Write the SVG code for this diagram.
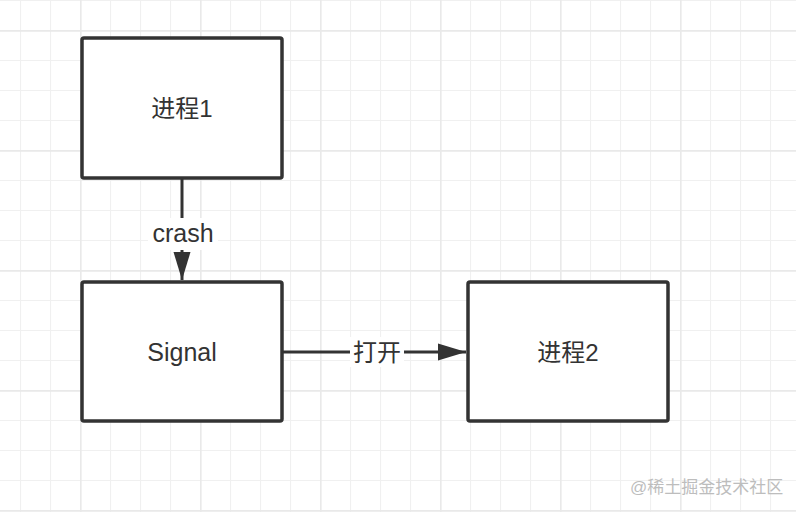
<svg xmlns="http://www.w3.org/2000/svg" width="796" height="512" viewBox="0 0 796 512">
  <style>
    .box { fill: #ffffff; stroke: #333333; stroke-width: 3.5; }
    .lbl { font-family: "Liberation Sans", "Noto Sans CJK SC", sans-serif; font-size: 24px; fill: #333333; text-anchor: middle; }
    .lat { font-size: 25px; }
    .edge { stroke: #333333; stroke-width: 3; fill: none; }
    .wm { font-family: "Liberation Sans", "Noto Sans CJK SC", sans-serif; font-size: 17px; fill: #bdbdbd; }
  </style>
  <defs>
    <pattern id="minor" patternUnits="userSpaceOnUse" x="20" y="0" width="30" height="30">
      <path d="M0.5 0 V30 M0 0.5 H30" stroke="#f0f0f0" stroke-width="1.2" fill="none"/>
    </pattern>
    <pattern id="major" patternUnits="userSpaceOnUse" x="80" y="30" width="120" height="120">
      <path d="M0.75 0 V120 M0 0.75 H120" stroke="#e9e9e9" stroke-width="1.8" fill="none"/>
    </pattern>
    <marker id="arr" markerUnits="userSpaceOnUse" markerWidth="30" markerHeight="20" refX="28" refY="9" orient="auto">
      <path d="M0 0.5 L28 9 L0 17.5 Z" fill="#333333"/>
    </marker>
  </defs>
  <rect width="796" height="512" fill="#ffffff"/>
  <rect width="796" height="512" fill="url(#minor)"/>
  <rect width="796" height="512" fill="url(#major)"/>

  <g id="connectors">
    <g id="edge-crash">
      <path class="edge" d="M182 179 V280" marker-end="url(#arr)"/>
      <rect x="148" y="218" width="70" height="32" fill="#ffffff"/>
      <text class="lbl lat" x="183" y="242">crash</text>
    </g>
    <g id="edge-open">
      <path class="edge" d="M283 352 H466" marker-end="url(#arr)"/>
      <rect x="350" y="337" width="54" height="30" fill="#ffffff"/>
      <text class="lbl" x="377" y="361">打开</text>
    </g>
  </g>

  <g id="node-p1">
    <rect class="box" x="82" y="38" width="200" height="140" rx="2"/>
    <text class="lbl" x="182" y="117">进程1</text>
  </g>
  <g id="node-signal">
    <rect class="box" x="82" y="282" width="200" height="139" rx="2"/>
    <text class="lbl lat" x="182" y="361">Signal</text>
  </g>
  <g id="node-p2">
    <rect class="box" x="468" y="282" width="200" height="139" rx="2"/>
    <text class="lbl" x="568" y="361">进程2</text>
  </g>

  <text class="wm" x="630" y="493">@稀土掘金技术社区</text>
</svg>
